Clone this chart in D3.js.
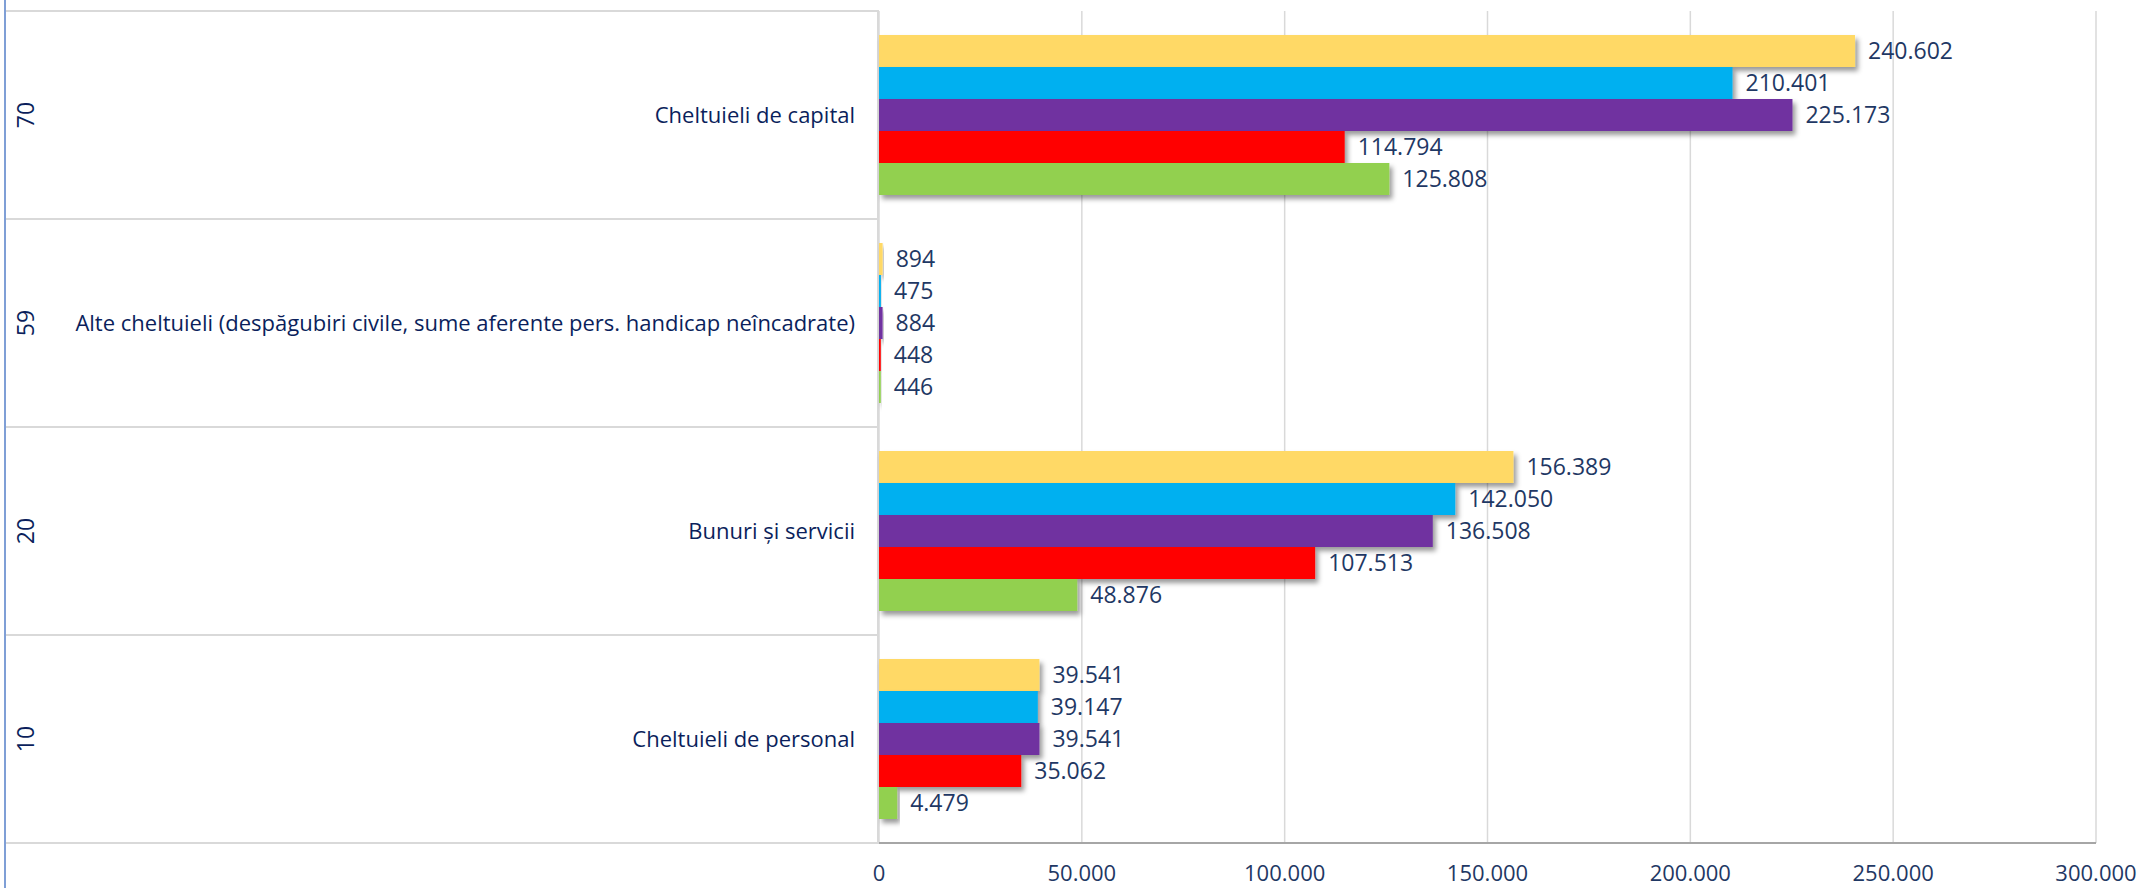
<!DOCTYPE html>
<html>
<head>
<meta charset="utf-8">
<script src="https://cdn.jsdelivr.net/npm/d3@7"></script>
<style>
  html, body { margin: 0; padding: 0; background: #fff; }
  svg { display: block; font-family: "Open Sans", "Noto Sans", sans-serif; }
</style>
</head>
<body>
<div id="chart"></div>
<script>
// categorii (de sus in jos) si codurile lor
const codes = ["70", "59", "20", "10"];
const categories = [
  "Cheltuieli de capital",
  "Alte cheltuieli (despăgubiri civile, sume aferente pers. handicap neîncadrate)",
  "Bunuri și servicii",
  "Cheltuieli de personal"
];

// serii, in ordinea barelor de sus in jos
const seriesNames = ["S5", "S4", "S3", "S2", "S1"];
const seriesColors = ["#FFD966", "#00B0F0", "#7030A0", "#FF0000", "#92D050"];
const valuesS5 = [240602, 894, 156389, 39541];
const valuesS4 = [210401, 475, 142050, 39147];
const valuesS3 = [225173, 884, 136508, 39541];
const valuesS2 = [114794, 448, 107513, 35062];
const valuesS1 = [125808, 446, 48876, 4479];
const seriesValues = [valuesS5, valuesS4, valuesS3, valuesS2, valuesS1];

const xTicks = [0, 50000, 100000, 150000, 200000, 250000, 300000];

const width = 2143, height = 888;
const plotLeft = 879, plotRight = 2096, plotTop = 11, plotBottom = 843;
const navy = "#1F3864";

const fmt = d3.formatLocale({ decimal: ",", thousands: ".", grouping: [3], currency: ["", ""] }).format(",d");

const svg = d3.select("#chart").append("svg")
  .attr("width", width)
  .attr("height", height);

// umbra barelor
svg.append("defs").append("filter")
  .attr("id", "shadow")
  .attr("x", "-5%").attr("y", "-20%")
  .attr("width", "120%").attr("height", "160%")
  .append("feDropShadow")
  .attr("dx", 3).attr("dy", 4)
  .attr("stdDeviation", 2.5)
  .attr("flood-color", "#000")
  .attr("flood-opacity", 0.4);

const x = d3.scaleLinear().domain([0, 300000]).range([plotLeft, plotRight]);
const y = d3.scaleBand().domain(categories).range([plotTop, plotBottom]);
const yInner = d3.scaleBand().domain(seriesNames).range([0, y.bandwidth()]).paddingOuter(0.75);

// grila verticala
svg.append("g")
  .selectAll("line")
  .data(xTicks)
  .join("line")
  .attr("x1", d => x(d)).attr("x2", d => x(d))
  .attr("y1", plotTop).attr("y2", plotBottom)
  .attr("stroke", "#d9d9d9")
  .attr("stroke-width", 1.5);

// tabelul categoriilor din stanga
const bounds = categories.map(c => y(c)).concat([plotBottom]);
svg.append("g")
  .selectAll("line")
  .data(bounds)
  .join("line")
  .attr("x1", 6).attr("x2", plotLeft)
  .attr("y1", d => d).attr("y2", d => d)
  .attr("stroke", "#d9d9d9")
  .attr("stroke-width", 2);

svg.append("line")
  .attr("x1", plotLeft - 1).attr("x2", plotLeft - 1)
  .attr("y1", plotTop).attr("y2", plotBottom)
  .attr("stroke", "#d9d9d9")
  .attr("stroke-width", 2);

// linia albastra din stanga
svg.append("line")
  .attr("x1", 5).attr("x2", 5)
  .attr("y1", 0).attr("y2", height)
  .attr("stroke", "#7f9fd6")
  .attr("stroke-width", 2);

// axa de jos
svg.append("line")
  .attr("x1", plotLeft).attr("x2", plotRight)
  .attr("y1", plotBottom).attr("y2", plotBottom)
  .attr("stroke", "#a6a6a6")
  .attr("stroke-width", 2);

svg.append("g")
  .selectAll("text")
  .data(xTicks)
  .join("text")
  .attr("x", d => x(d))
  .attr("y", 881)
  .attr("text-anchor", "middle")
  .attr("font-size", 22)
  .attr("fill", navy)
  .text(d => fmt(d));

// bare + etichete
const groups = svg.append("g")
  .selectAll("g")
  .data(categories)
  .join("g")
  .attr("transform", d => `translate(0, ${y(d)})`);

groups.each(function(cat, ci) {
  const g = d3.select(this);
  const rows = seriesNames.map((s, si) => ({ s, color: seriesColors[si], v: seriesValues[si][ci] }));

  g.selectAll("rect")
    .data(rows)
    .join("rect")
    .attr("x", x(0))
    .attr("y", d => yInner(d.s))
    .attr("width", d => x(d.v) - x(0))
    .attr("height", yInner.bandwidth())
    .attr("fill", d => d.color)
    .attr("filter", "url(#shadow)");

  g.selectAll("text.val")
    .data(rows)
    .join("text")
    .attr("class", "val")
    .attr("x", d => x(d.v) + 13)
    .attr("y", d => yInner(d.s) + yInner.bandwidth() / 2)
    .attr("dy", "0.35em")
    .attr("font-size", 23)
    .attr("fill", navy)
    .text(d => fmt(d.v));

  // eticheta categoriei
  g.append("text")
    .attr("x", 855)
    .attr("y", y.bandwidth() / 2)
    .attr("dy", "0.35em")
    .attr("text-anchor", "end")
    .attr("font-size", 22)
    .attr("fill", "#0B1F5C")
    .text(cat);

  // codul, rotit
  g.append("text")
    .attr("transform", `translate(26, ${y.bandwidth() / 2}) rotate(-90)`)
    .attr("dy", "0.35em")
    .attr("text-anchor", "middle")
    .attr("font-size", 23)
    .attr("fill", "#0B1F5C")
    .text(codes[ci]);
});
</script>
</body>
</html>
